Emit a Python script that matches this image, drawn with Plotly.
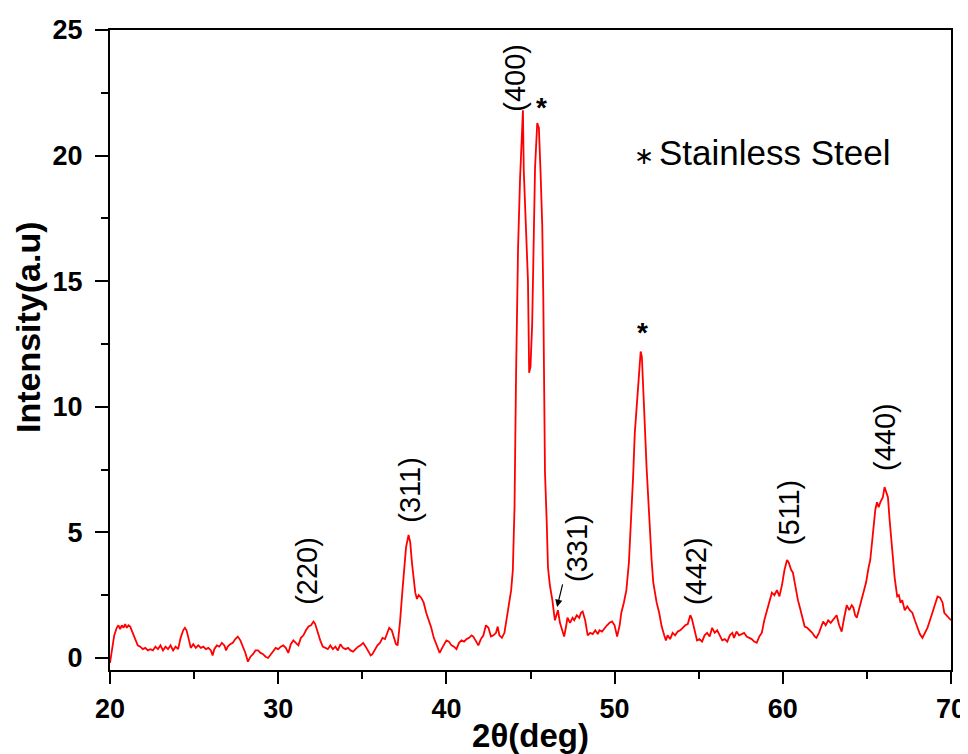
import plotly.graph_objects as go

# 2theta (deg) values
two_theta = [
    20.0, 20.1, 20.25, 20.4, 20.5, 20.6, 20.7, 20.8, 20.9, 21.0, 21.1, 21.2, 21.35, 21.5, 21.65, 21.8, 21.95,
    22.1, 22.25, 22.4, 22.55, 22.7, 22.85, 23.0, 23.15, 23.3, 23.45, 23.6, 23.75, 23.9, 24.05, 24.2, 24.35,
    24.45, 24.55, 24.7, 24.8, 24.95, 25.1, 25.25, 25.4, 25.55, 25.7, 25.85, 26.0, 26.1, 26.2, 26.35, 26.5,
    26.65, 26.8, 26.9, 27.0, 27.15, 27.3, 27.45, 27.6, 27.75, 27.9, 28.05, 28.2, 28.35, 28.5, 28.65, 28.8,
    28.95, 29.1, 29.25, 29.4, 29.55, 29.7, 29.85, 30.0, 30.15, 30.3, 30.45, 30.6, 30.75, 30.9, 31.05, 31.2,
    31.35, 31.5, 31.65, 31.8, 31.95, 32.1, 32.2, 32.35, 32.5, 32.65, 32.8, 32.95, 33.1, 33.25, 33.4, 33.55,
    33.7, 33.85, 34.0, 34.15, 34.3, 34.45, 34.6, 34.75, 34.9, 35.05, 35.2, 35.35, 35.5, 35.6, 35.75, 35.9,
    36.05, 36.2, 36.35, 36.5, 36.6, 36.75, 36.9, 37.0, 37.1, 37.25, 37.4, 37.5, 37.6, 37.75, 37.85, 37.95,
    38.05, 38.15, 38.25, 38.35, 38.5, 38.65, 38.8, 38.95, 39.1, 39.25, 39.4, 39.5, 39.6, 39.75, 39.9, 40.0,
    40.15, 40.3, 40.45, 40.6, 40.75, 40.9, 41.05, 41.2, 41.35, 41.5, 41.6, 41.75, 41.9, 42.05, 42.2, 42.35,
    42.5, 42.65, 42.8, 42.95, 43.05, 43.15, 43.3, 43.45, 43.6, 43.75, 43.85, 43.95, 44.05, 44.14, 44.2,
    44.26, 44.38, 44.5, 44.55, 44.6, 44.73, 44.85, 44.92, 45.0, 45.1, 45.15, 45.27, 45.4, 45.5, 45.6, 45.7,
    45.76, 45.8, 45.86, 45.96, 46.04, 46.15, 46.3, 46.45, 46.55, 46.63, 46.75, 46.85, 47.0, 47.1, 47.2,
    47.35, 47.5, 47.6, 47.75, 47.9, 48.0, 48.1, 48.25, 48.4, 48.55, 48.7, 48.85, 49.0, 49.1, 49.25, 49.4,
    49.55, 49.7, 49.85, 50.0, 50.15, 50.3, 50.4, 50.55, 50.7, 50.85, 51.0, 51.1, 51.2, 51.35, 51.45, 51.55,
    51.62, 51.7, 51.8, 51.9, 52.0, 52.1, 52.2, 52.3, 52.4, 52.5, 52.65, 52.8, 52.95, 53.05, 53.15, 53.3,
    53.45, 53.6, 53.75, 53.9, 54.05, 54.2, 54.35, 54.5, 54.6, 54.75, 54.9, 55.05, 55.2, 55.35, 55.5, 55.65,
    55.8, 55.95, 56.1, 56.25, 56.4, 56.55, 56.7, 56.85, 57.0, 57.1, 57.25, 57.4, 57.55, 57.7, 57.85, 58.0,
    58.15, 58.3, 58.45, 58.6, 58.75, 58.9, 59.05, 59.2, 59.35, 59.5, 59.65, 59.8, 59.95, 60.1, 60.25, 60.35,
    60.5, 60.6, 60.75, 60.9, 61.0, 61.15, 61.3, 61.45, 61.6, 61.75, 61.9, 62.0, 62.15, 62.3, 62.4, 62.55,
    62.7, 62.85, 63.0, 63.2, 63.35, 63.5, 63.65, 63.8, 63.95, 64.1, 64.2, 64.3, 64.4, 64.55, 64.7, 64.8,
    64.95, 65.1, 65.2, 65.35, 65.5, 65.6, 65.7, 65.8, 65.95, 66.05, 66.15, 66.25, 66.35, 66.5, 66.65, 66.8,
    66.9, 67.0, 67.1, 67.25, 67.4, 67.55, 67.7, 67.85, 68.0, 68.15, 68.3, 68.45, 68.6, 68.75, 68.9, 69.05,
    69.2, 69.35, 69.5, 69.6, 69.75, 69.9, 70.0,
]

# Intensity (a.u) values
intensity = [
    -0.2, 0.3, 0.9, 1.2, 1.3, 1.15, 1.3, 1.2, 1.35, 1.2, 1.3, 1.25, 1.0, 0.8, 0.5, 0.45, 0.35,
    0.4, 0.3, 0.35, 0.3, 0.45, 0.35, 0.5, 0.3, 0.45, 0.35, 0.5, 0.3, 0.45, 0.35, 0.8, 1.1,
    1.2, 1.1, 0.7, 0.4, 0.55, 0.4, 0.5, 0.4, 0.45, 0.35, 0.4, 0.3, 0.1, 0.35, 0.5, 0.45,
    0.6, 0.5, 0.3, 0.45, 0.55, 0.6, 0.75, 0.85, 0.7, 0.45, 0.2, -0.15, 0.05, 0.15, 0.3, 0.3,
    0.2, 0.15, 0.05, 0.0, 0.15, 0.3, 0.4, 0.35, 0.45, 0.5, 0.4, 0.2, 0.55, 0.7, 0.6, 0.5,
    0.8, 0.9, 1.1, 1.25, 1.3, 1.45, 1.35, 1.0, 0.7, 0.45, 0.4, 0.35, 0.5, 0.35, 0.45, 0.3,
    0.55, 0.4, 0.35, 0.4, 0.3, 0.25, 0.35, 0.45, 0.5, 0.6, 0.45, 0.3, 0.1, 0.15, 0.35, 0.5,
    0.6, 0.8, 0.75, 1.0, 1.2, 1.1, 0.8, 0.55, 0.5, 1.5, 2.8, 3.8, 4.4, 4.9, 4.6, 3.8,
    3.2, 2.6, 2.35, 2.5, 2.4, 2.2, 1.8, 1.5, 1.2, 0.8, 0.55, 0.4, 0.2, 0.4, 0.6, 0.7,
    0.65, 0.5, 0.45, 0.35, 0.6, 0.7, 0.65, 0.75, 0.8, 0.9, 0.85, 0.65, 0.5, 0.75, 0.9, 1.3,
    1.2, 0.85, 0.9, 1.0, 1.25, 0.9, 0.8, 1.0, 1.6, 2.2, 2.7, 3.5, 6.0, 11.2, 13.8,
    16.3, 19.1, 21.1, 21.8, 19.4, 17.3, 15.0, 11.35, 11.6, 13.3, 15.2, 19.5, 21.3, 21.1, 19.3, 17.2,
    14.4, 11.2, 7.4, 5.5, 3.6, 2.9, 2.3, 1.5, 1.7, 1.9, 1.4, 1.2, 0.85, 1.2, 1.6,
    1.4, 1.6, 1.5, 1.7, 1.6, 1.8, 1.85, 1.5, 0.9, 1.0, 0.95, 1.1, 0.95, 1.1, 1.05, 1.2,
    1.3, 1.4, 1.45, 1.3, 0.85, 1.3, 1.8, 2.2, 2.7, 3.8, 5.6, 7.2, 8.95, 10.5, 11.6, 12.2,
    12.0, 10.5, 9.2, 7.6, 6.2, 5.0, 3.9, 3.0, 2.5, 2.2, 1.8, 1.25, 0.9, 0.7, 0.9, 0.75,
    1.0, 0.9, 1.05, 1.1, 1.2, 1.3, 1.35, 1.7, 1.55, 1.1, 0.7, 0.75, 0.65, 0.9, 1.0, 0.85,
    1.2, 1.0, 1.1, 0.9, 0.7, 0.75, 0.65, 0.9, 1.0, 0.8, 1.05, 0.9, 0.95, 1.0, 0.85, 0.8,
    0.75, 0.65, 0.6, 0.85, 1.0, 1.5, 1.9, 2.3, 2.6, 2.5, 2.7, 2.45, 2.9, 3.5, 3.9, 3.8,
    3.5, 3.4, 2.8, 2.3, 2.05, 1.6, 1.25, 1.2, 1.1, 1.0, 0.85, 0.8, 1.0, 1.3, 1.45, 1.3,
    1.5, 1.4, 1.55, 1.7, 1.3, 1.05, 1.6, 2.1, 1.9, 2.1, 2.0, 1.7, 1.6, 2.0, 2.4, 2.6,
    3.0, 3.6, 3.9, 4.9, 5.9, 6.2, 6.0, 6.2, 6.4, 6.8, 6.6, 6.4, 5.5, 4.3, 3.2, 2.45,
    2.5, 2.2, 2.3, 1.9, 2.05, 1.9, 1.8, 1.5, 1.25, 0.95, 0.8, 1.0, 1.2, 1.5, 1.8, 2.1,
    2.45, 2.4, 2.2, 1.8, 1.7, 1.6, 1.5,
]

# Peak labels (Miller indices) and their positions
peak_labels = ["(220)", "(311)", "(400)", "(331)", "(442)", "(511)", "(440)"]
peak_label_x = [31.7, 37.84, 44.08, 47.77, 54.84, 60.37, 66.08]
peak_label_y = [3.46, 6.7, 23.1, 4.38, 3.46, 5.8, 8.8]

# Stainless steel markers
ss_x = [45.68, 51.63]
ss_y = [21.9, 12.94]

x_ticks = [20, 30, 40, 50, 60, 70]
y_ticks = [0, 5, 10, 15, 20, 25]

FONT = "Liberation Sans, Arial, sans-serif"

# the page body adds an 8px offset, so the figure is 8px smaller
OFF = 8
L, R, T, B = 110 - OFF, 17, 30 - OFF, 84
W, H = 968 - OFF, 754 - OFF
PW, PH = W - L - R, H - T - B


def px_to_paper(px, py):
    # px, py are page pixel coordinates
    return (px - OFF - L) / PW, 1 - (py - OFF - T) / PH


fig = go.Figure()
fig.add_trace(go.Scatter(
    x=two_theta, y=intensity, mode="lines",
    line=dict(color="#ff0000", width=1.8),
    showlegend=False, hoverinfo="skip",
))

annotations = []
for lab, lx, ly in zip(peak_labels, peak_label_x, peak_label_y):
    annotations.append(dict(
        x=lx, y=ly, xref="x", yref="y", text=lab, textangle=-90,
        showarrow=False, xanchor="center", yanchor="middle",
        font=dict(family=FONT, size=29, color="#000000"),
    ))
for sx, sy in zip(ss_x, ss_y):
    annotations.append(dict(
        x=sx, y=sy, xref="x", yref="y", text="<b>*</b>",
        showarrow=False, xanchor="center", yanchor="middle",
        font=dict(family=FONT, size=28, color="#000000"),
    ))
# arrow for (331)
annotations.append(dict(
    x=46.58, y=2.03, ax=46.93, ay=2.99, xref="x", yref="y", axref="x", ayref="y",
    text="", showarrow=True, arrowhead=2, arrowsize=1.2, arrowwidth=1.2, arrowcolor="#000000",
))
# legend text
ax_, ay_ = px_to_paper(644, 155)
annotations.append(dict(
    x=ax_, y=ay_, xref="paper", yref="paper", text="∗",
    showarrow=False, xanchor="center", yanchor="middle",
    font=dict(family=FONT, size=24, color="#000000"),
))
tx_, ty_ = px_to_paper(657, 153)
annotations.append(dict(
    x=tx_, y=ty_, xref="paper", yref="paper", text="Stainless Steel",
    showarrow=False, xanchor="left", yanchor="middle",
    font=dict(family=FONT, size=35, color="#000000"),
))
# y-axis title (placed as an annotation to match its off-centre position)
yx_, yy_ = px_to_paper(28, 327)
annotations.append(dict(
    x=yx_, y=yy_, xref="paper", yref="paper", text="<b>Intensity(a.u)</b>", textangle=-90,
    showarrow=False, xanchor="center", yanchor="middle",
    font=dict(family=FONT, size=34, color="#000000"),
))

fig.update_layout(
    width=W, height=H,
    margin=dict(l=L, r=R, t=T, b=B, autoexpand=False),
    paper_bgcolor="white", plot_bgcolor="white",
    font=dict(family=FONT, color="#000000"),
    annotations=annotations,
)

fig.update_xaxes(
    range=[20, 70], tickvals=x_ticks, ticktext=[str(v) for v in x_ticks],
    showgrid=False, zeroline=False, automargin=False,
    showline=True, linecolor="#000000", linewidth=2, mirror=True,
    ticks="outside", ticklen=12, tickwidth=2, tickcolor="#000000",
    minor=dict(ticks="outside", ticklen=7, tickwidth=2, tickcolor="#000000", dtick=5, showgrid=False),
    tickfont=dict(family=FONT, size=27, color="#000000", weight="bold"),
    ticklabelstandoff=2,
    title=dict(text="2θ(deg)", font=dict(family=FONT, size=33, color="#000000", weight="bold"), standoff=2),
)
fig.update_yaxes(
    range=[-0.48, 25], tickvals=y_ticks, ticktext=[str(v) for v in y_ticks],
    showgrid=False, zeroline=False, automargin=False,
    showline=True, linecolor="#000000", linewidth=2, mirror=True,
    ticks="outside", ticklen=13, tickwidth=2, tickcolor="#000000",
    minor=dict(ticks="outside", ticklen=7, tickwidth=2, tickcolor="#000000", dtick=2.5, showgrid=False),
    tickfont=dict(family=FONT, size=27, color="#000000", weight="bold"),
    ticklabelstandoff=7,
)

fig.write_html("out.html")
